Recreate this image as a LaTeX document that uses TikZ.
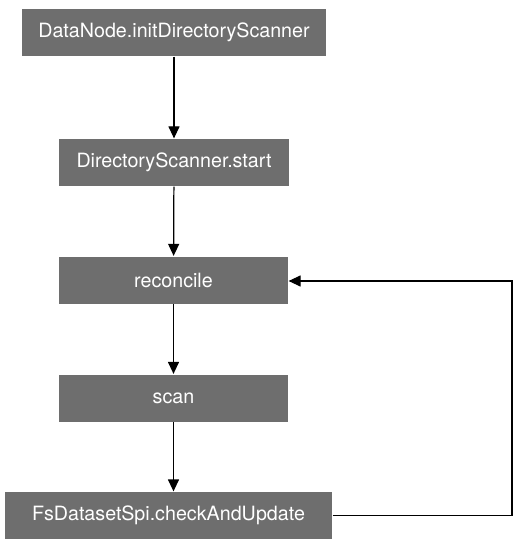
\documentclass[tikz,border=0pt]{standalone}
\usepackage{fontspec}
\setmainfont{TeX Gyre Heros}
\usetikzlibrary{arrows.meta,positioning}
\definecolor{boxgray}{RGB}{110,110,110}

\begin{document}
\begin{tikzpicture}[>={Triangle[length=2.4mm,width=2.2mm]}, line width=0.7pt,
      every node/.append style={font=\fontsize{11.2}{13}\selectfont}]
    \tikzstyle{step box} = [fill=boxgray,text=white,minimum height=0.94cm,inner sep=0pt]
    \useasboundingbox (0,0) rectangle (10.5,-10.86);
    \node (initScanner) [step box,minimum width=6.08cm] at (3.48,-0.65) {DataNode.initDirectoryScanner};
    \node (scannerStart) [step box,minimum width=4.6cm] at (3.48,-3.25) {DirectoryScanner.start};
    \node (reconcile) [step box,minimum width=4.58cm] at (3.47,-5.6) {reconcile};
    \node (scan) [step box,minimum width=4.58cm] at (3.47,-7.96) {scan};
    \node (checkUpdate) [step box,minimum width=6.54cm] at (3.37,-10.31) {FsDatasetSpi.checkAndUpdate};
    \coordinate (rightside) at (10.24,-5.62);
    \draw[->] (initScanner) -- (scannerStart);
    \draw[->] (scannerStart) -- (reconcile);
    \draw[->] (reconcile) -- (scan);
    \draw[->] (scan.south) -- (scan.south |- checkUpdate.north);
    % back to reconcile
    \draw[->] (checkUpdate.east) -| (rightside) -- (reconcile.east |- rightside);
\end{tikzpicture}
\end{document}
